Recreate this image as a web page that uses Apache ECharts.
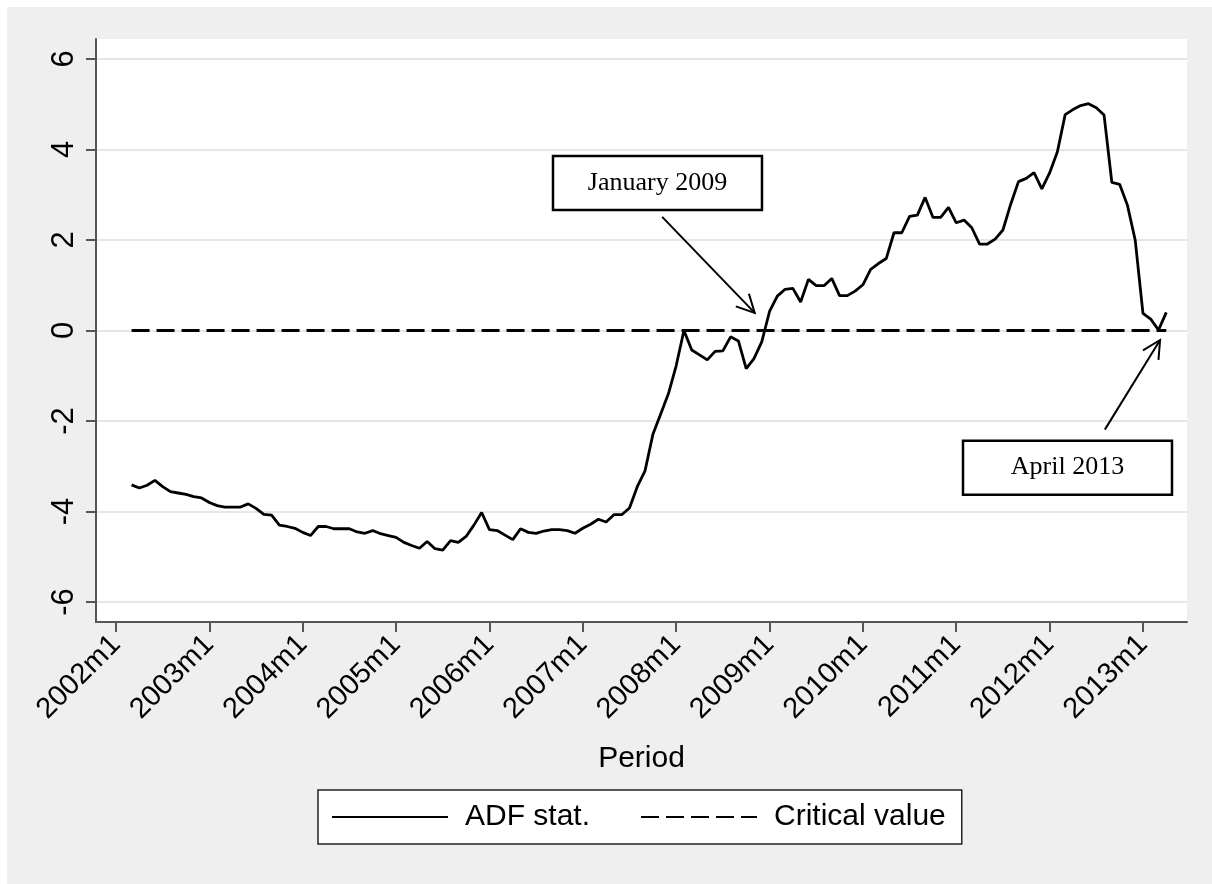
<!DOCTYPE html>
<html><head><meta charset="utf-8">
<script src="https://cdn.jsdelivr.net/npm/echarts@6/dist/echarts.min.js"></script>
<style>
html,body{margin:0;padding:0;background:#fff;width:1212px;height:884px;overflow:hidden;}
#chart{position:absolute;left:7px;top:7px;width:1205px;height:877px;}
</style></head>
<body><div id="chart"></div>
<script>
// month index counted from 2002m1 (= 0); first observation is 2002m3
const firstMonth = 2;
const adfStat = [
 -3.41,-3.48,-3.42,-3.31,-3.45,-3.56,-3.59,-3.62,-3.67,-3.70,
 -3.80,-3.87,-3.90,-3.90,-3.90,-3.83,-3.93,-4.06,-4.08,-4.30,
 -4.33,-4.37,-4.46,-4.53,-4.33,-4.33,-4.38,-4.38,-4.38,-4.45,
 -4.48,-4.42,-4.49,-4.53,-4.57,-4.68,-4.75,-4.81,-4.66,-4.82,
 -4.85,-4.64,-4.68,-4.55,-4.30,-4.02,-4.40,-4.42,-4.52,-4.62,
 -4.38,-4.46,-4.48,-4.43,-4.40,-4.40,-4.42,-4.48,-4.37,-4.28,
 -4.17,-4.23,-4.07,-4.07,-3.92,-3.45,-3.10,-2.30,-1.85,-1.40,
 -0.78,0.00,-0.43,-0.54,-0.65,-0.46,-0.45,-0.14,-0.23,-0.84,
 -0.62,-0.25,0.42,0.76,0.91,0.93,0.63,1.13,0.99,0.99,
 1.15,0.77,0.77,0.87,1.01,1.35,1.48,1.59,2.16,2.16,
 2.52,2.55,2.94,2.50,2.50,2.72,2.38,2.44,2.27,1.91,
 1.91,2.02,2.22,2.79,3.29,3.36,3.49,3.13,3.48,3.95,
 4.77,4.88,4.97,5.01,4.92,4.76,3.27,3.23,2.77,2.00,
 0.38,0.25,0.01,0.40
];
const criticalValue = [
 0,0,0,0,0,0,0,0,0,0,0,0,0,0,0,0,0,0,0,0,0,0,0,0,0,0,0,0,0,0,0,0,0,0,
 0,0,0,0,0,0,0,0,0,0,0,0,0,0,0,0,0,0,0,0,0,0,0,0,0,0,0,0,0,0,0,0,0,0,
 0,0,0,0,0,0,0,0,0,0,0,0,0,0,0,0,0,0,0,0,0,0,0,0,0,0,0,0,0,0,0,0,0,0,
 0,0,0,0,0,0,0,0,0,0,0,0,0,0,0,0,0,0,0,0,0,0,0,0,0,0,0,0,0,0,0,0
];
const tickMonths = [0,12,24,36,48,60,72,84,96,108,120,132];
const tickLabels = ['2002m1','2003m1','2004m1','2005m1','2006m1','2007m1','2008m1','2009m1','2010m1','2011m1','2012m1','2013m1'];
const yTicks = [-6,-4,-2,0,2,4,6];
const seriesNames = ['ADF stat.','Critical value'];
const annotText = ['January 2009','April 2013'];
const annotBox = [[69.6,3.26],[122.3,-3.03]];
const annotFrom = [[70.2,2.51],[127.1,-2.19]];
const annotTo = [[82.1,0.39],[134.2,-0.21]];

const SANS = '"Liberation Sans", Arial, sans-serif';
const SERIF = '"Liberation Serif", "Times New Roman", serif';
const axisColor = '#555';

const chart = echarts.init(document.getElementById('chart'), null, {renderer:'canvas'});
const option = {
  backgroundColor: '#efefef',
  animation: false,
  grid: {left: 89, right: 25, top: 32, bottom: 262, show: true, backgroundColor: '#fff', borderWidth: 0},
  xAxis: {
    type: 'value', min: -2.57, max: 137.66,
    name: 'Period', nameLocation: 'middle', nameGap: 122,
    nameTextStyle: {fontSize: 30, color: '#000', fontFamily: SANS},
    axisLine: {show: true, onZero: false, lineStyle: {color: axisColor, width: 2}},
    axisTick: {show: true, length: 10, customValues: tickMonths, lineStyle: {color: axisColor, width: 2}},
    axisLabel: {
      customValues: tickMonths, rotate: 45, margin: 18, fontSize: 29, color: '#000', fontFamily: SANS,
      formatter: v => tickLabels[tickMonths.indexOf(v)]
    },
    splitLine: {show: false}
  },
  yAxis: {
    type: 'value', min: -6.44, max: 6.44,
    axisLine: {show: true, onZero: false, lineStyle: {color: axisColor, width: 2}},
    axisTick: {show: true, length: 10, customValues: yTicks, lineStyle: {color: axisColor, width: 2}},
    axisLabel: {customValues: yTicks, rotate: 90, margin: 16, fontSize: 31, color: '#000', fontFamily: SANS},
    splitLine: {show: true, lineStyle: {color: '#e6e6e6', width: 2}}
  },
  legend: {
    data: seriesNames, left: 311, top: 783, orient: 'horizontal',
    itemWidth: 116, itemHeight: 14, itemGap: 50,
    padding: [12, 16, 12, 13],
    borderColor: '#222', borderWidth: 1.5, backgroundColor: '#fff',
    itemStyle: {opacity: 0},
    textStyle: {fontSize: 30, color: '#000', fontFamily: SANS, padding: [0,0,0,12]}
  },
  series: [
    {
      name: seriesNames[0], type: 'line', symbol: 'none', z: 3,
      lineStyle: {color: '#000', width: 2.8},
      itemStyle: {color: '#000'},
      data: adfStat.map((v, i) => [firstMonth + i, v])
    },
    {
      name: seriesNames[1], type: 'line', symbol: 'none', z: 2,
      lineStyle: {color: '#000', width: 2.8, type: [18, 7]},
      itemStyle: {color: '#000'},
      data: criticalValue.map((v, i) => [firstMonth + i, v])
    }
  ]
};
chart.setOption(option);

// annotations anchored to data coordinates
const g = [];
const BW = 209, BH = 54;
annotText.forEach((t, k) => {
  const c = chart.convertToPixel({gridIndex: 0}, annotBox[k]);
  const a = chart.convertToPixel({gridIndex: 0}, annotFrom[k]);
  const b = chart.convertToPixel({gridIndex: 0}, annotTo[k]);
  g.push({type: 'rect', z: 10, shape: {x: c[0] - BW/2, y: c[1] - BH/2, width: BW, height: BH},
          style: {fill: '#fff', stroke: '#000', lineWidth: 2.5}});
  g.push({type: 'text', z: 11, style: {text: t, x: c[0], y: c[1], align: 'center', verticalAlign: 'middle',
          font: '26px ' + SERIF, fill: '#000'}});
  g.push({type: 'line', z: 10, shape: {x1: a[0], y1: a[1], x2: b[0], y2: b[1]},
          style: {stroke: '#000', lineWidth: 2}});
  const dx = b[0] - a[0], dy = b[1] - a[1], len = Math.hypot(dx, dy);
  const ux = dx / len, uy = dy / len, L = 20, th = 27 * Math.PI / 180;
  const arm = s => [b[0] - L * (ux * Math.cos(th) - s * uy * Math.sin(th)),
                    b[1] - L * (uy * Math.cos(th) + s * ux * Math.sin(th))];
  g.push({type: 'polyline', z: 10, shape: {points: [arm(1), b, arm(-1)]},
          style: {stroke: '#000', lineWidth: 2, fill: null}});
});
chart.setOption({graphic: g});
</script>
</body></html>
